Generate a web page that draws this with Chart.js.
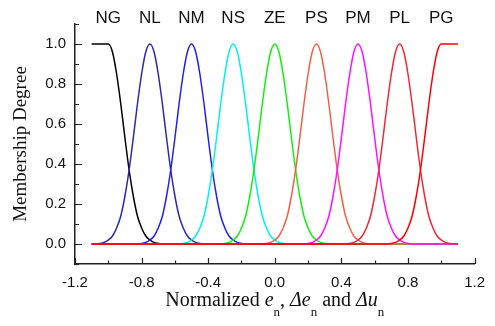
<!DOCTYPE html>
<html>
<head>
<meta charset="utf-8">
<script src="https://cdn.jsdelivr.net/npm/chart.js@4"></script>
<style>
  body { margin: 0; background: #fff; }
  canvas { display: block; }
</style>
</head>
<body>
<canvas id="mfChart" width="495" height="326"></canvas>
<script>
// fuzzy sets and their centres on the normalized axis
const setNames = ['NG', 'NL', 'NM', 'NS', 'ZE', 'PS', 'PM', 'PL', 'PG'];
const setCenters = [-1.0, -0.75, -0.5, -0.25, 0.0, 0.25, 0.5, 0.75, 1.0];

// one side of the bell shape (distance from centre -> degree)
const bellOffsets = [0, 0.025, 0.05, 0.075, 0.1, 0.125, 0.15, 0.175, 0.2, 0.225, 0.25, 0.275, 0.3, 0.35];
const bellDegrees = [1.0, 0.96, 0.85, 0.70, 0.53, 0.37, 0.24, 0.14, 0.08, 0.04, 0.02, 0.008, 0.003, 0.0];

const xTickLabels = ['-1.2', '-0.8', '-0.4', '0.0', '0.4', '0.8', '1.2'];
const yTickLabels = ['0.0', '0.2', '0.4', '0.6', '0.8', '1.0'];

const lineColors = ['#000000', '#2a2aa8', '#2020f0', '#00f0f0', '#10f010', '#f06048', '#ff10ff', '#ee2838', '#ff0000'];

const X_MIN = -1.1, X_MAX = 1.1;

function r3(v) { return Math.round(v * 1000) / 1000; }

function buildSet(i) {
    const c = setCenters[i];
    const pts = [];
    const last = bellOffsets.length - 1;
    if (c - bellOffsets[last] > X_MIN) pts.push({ x: X_MIN, y: 0 });
    for (let k = last; k >= 1; k--) {
        const x = r3(c - bellOffsets[k]);
        if (x < X_MIN) continue;
        pts.push({ x: x, y: i === 0 ? 1.0 : bellDegrees[k] }); // NG keeps a shoulder on the left
    }
    pts.push({ x: c, y: bellDegrees[0] });
    for (let k = 1; k <= last; k++) {
        const x = r3(c + bellOffsets[k]);
        if (x > X_MAX) continue;
        pts.push({ x: x, y: i === setNames.length - 1 ? 1.0 : bellDegrees[k] }); // PG shoulder on the right
    }
    if (c + bellOffsets[last] < X_MAX) pts.push({ x: X_MAX, y: 0 });
    return pts;
}

const datasets = setNames.map((name, i) => ({
    label: name,
    data: buildSet(i),
    borderColor: lineColors[i],
    borderWidth: 1.5,
    pointRadius: 0,
    fill: false,
    cubicInterpolationMode: 'monotone',
    order: setNames.length - 1 - i
}));

function fmt(v) {
    if (Math.abs(v) < 1e-9) return '0.0';
    return v.toFixed(1);
}

// inward major/minor ticks, set names on top, axis titles
const decorations = {
    id: 'decorations',
    afterDraw(chart) {
        const ctx = chart.ctx;
        const xs = chart.scales.x, ys = chart.scales.y;
        const area = chart.chartArea;
        ctx.save();
        ctx.strokeStyle = '#222';
        ctx.lineWidth = 1.2;
        ctx.beginPath();
        xs.ticks.forEach(t => {
            const px = Math.round(xs.getPixelForValue(t.value)) + 0.5;
            const len = xTickLabels.includes(fmt(t.value)) ? 6 : 3.5;
            ctx.moveTo(px, area.bottom);
            ctx.lineTo(px, area.bottom - len);
        });
        ys.ticks.forEach(t => {
            const py = Math.round(ys.getPixelForValue(t.value)) + 0.5;
            const len = yTickLabels.includes(fmt(t.value)) ? 7 : 4;
            ctx.moveTo(area.left, py);
            ctx.lineTo(area.left + len, py);
        });
        ctx.stroke();

        // set names above each curve
        ctx.fillStyle = '#111';
        ctx.font = '17px "Liberation Sans", Arial, sans-serif';
        ctx.textAlign = 'center';
        ctx.textBaseline = 'alphabetic';
        setNames.forEach((name, i) => {
            ctx.fillText(name, xs.getPixelForValue(setCenters[i]), 23);
        });

        // y title
        ctx.save();
        ctx.translate(21, (area.top + area.bottom) / 2);
        ctx.rotate(-Math.PI / 2);
        ctx.font = '19px "Liberation Serif", "Times New Roman", serif';
        ctx.textBaseline = 'middle';
        ctx.fillText('Membership Degree', 0, 0);
        ctx.restore();

        // x title with italic symbols and subscripts
        const roman = '20px "Liberation Serif", "Times New Roman", serif';
        const ital = 'italic 20px "Liberation Serif", "Times New Roman", serif';
        const sub = '13px "Liberation Serif", "Times New Roman", serif';
        const parts = [
            ['Normalized ', roman, 0], ['e', ital, 0], ['n', sub, 10], [', ', roman, 0],
            ['\u0394e', ital, 0], ['n', sub, 10], [' and ', roman, 0],
            ['\u0394u', ital, 0], ['n', sub, 10]
        ];
        let total = 0;
        parts.forEach(p => { ctx.font = p[1]; total += ctx.measureText(p[0]).width; });
        let x = (area.left + area.right) / 2 - total / 2;
        ctx.textAlign = 'left';
        ctx.textBaseline = 'alphabetic';
        parts.forEach(p => {
            ctx.font = p[1];
            ctx.fillText(p[0], x, 306 + p[2]);
            x += ctx.measureText(p[0]).width;
        });
        ctx.restore();
    }
};

new Chart(document.getElementById('mfChart'), {
    type: 'line',
    data: { datasets: datasets },
    options: {
        responsive: false,
        animation: false,
        layout: { padding: { top: 24, right: 10, left: 0, bottom: 0 } },
        plugins: {
            legend: { display: false },
            tooltip: { enabled: false }
        },
        scales: {
            x: {
                type: 'linear',
                min: -1.2,
                max: 1.2,
                afterFit(scale) { scale.height = 62; },
                grid: { display: false, drawTicks: false },
                border: { display: true, color: '#222', width: 1.5 },
                ticks: {
                    stepSize: 0.2,
                    autoSkip: false,
                    maxRotation: 0,
                    padding: 10,
                    color: '#111',
                    font: { family: '"Liberation Sans", Arial, sans-serif', size: 15 },
                    callback: v => xTickLabels.includes(fmt(v)) ? fmt(v) : ''
                }
            },
            y: {
                min: -0.1,
                max: 1.1,
                afterFit(scale) { scale.width = 75; },
                grid: { display: false, drawTicks: false },
                border: { display: true, color: '#222', width: 1.5 },
                ticks: {
                    stepSize: 0.1,
                    autoSkip: false,
                    padding: 9,
                    color: '#111',
                    font: { family: '"Liberation Sans", Arial, sans-serif', size: 15 },
                    callback: v => yTickLabels.includes(fmt(v)) ? fmt(v) : ''
                }
            }
        }
    },
    plugins: [decorations]
});
</script>
</body>
</html>
